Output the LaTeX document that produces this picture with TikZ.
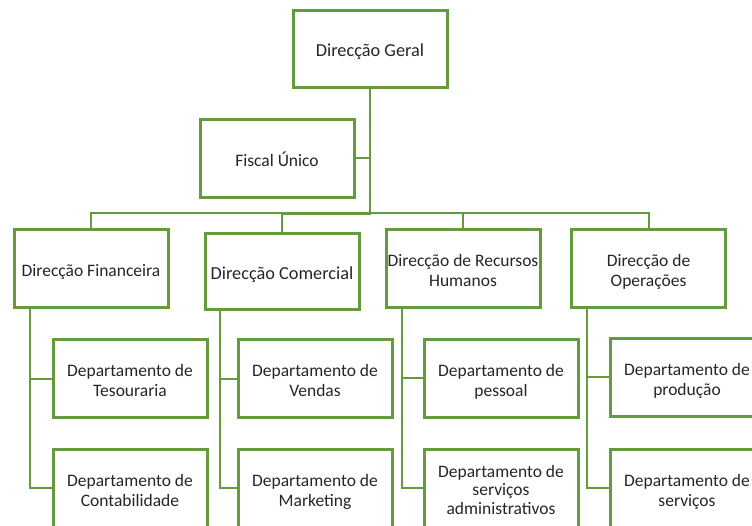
\documentclass[tikz,border=0pt]{standalone}
\usepackage{fontspec}
\setmainfont{Carlito}
\usetikzlibrary{positioning}
\definecolor{orggreen}{RGB}{100,155,60}
\newcommand{\boxtext}[1]{\raisebox{-4pt}[\height][\depth]{\begin{tabular}{@{}c@{}}#1\end{tabular}}}
\tikzset{
  unit/.style={draw=orggreen, line width=3pt, fill=white, minimum width=154pt, minimum height=78pt,
    inner sep=0pt, outer sep=0pt, align=center, text=black!85, font=\fontsize{17.5}{20}\selectfont},
  link/.style={draw=orggreen, line width=2pt}
}

\begin{document}
\begin{tikzpicture}[x=1pt,y=-1pt]
            \clip (0,0) rectangle (752,525);
            %Nodes
            \node[unit, minimum height=77pt, font=\fontsize{18.3}{22}\selectfont] at (370,48.5) (geral) {\boxtext{Direcção Geral}};
            \node[unit] at (277,158) (fiscal) {\boxtext{Fiscal Único}};
            \node[unit] at (91,268) (fin) {\boxtext{Direcção Financeira}};
            \node[unit, minimum height=76pt, font=\fontsize{18.3}{22}\selectfont] at (282,271) (com) {\boxtext{Direcção Comercial}};
            \node[unit] at (463,268) (rh) {\boxtext{Direcção de Recursos\\Humanos}};
            \node[unit] at (648.5,268) (ops) {\boxtext{Direcção de\\Operações}};

            \node[unit] at (130,378.5) (tes) {\boxtext{Departamento de\\Tesouraria}};
            \node[unit] at (130,488) (cont) {\boxtext{Departamento de\\Contabilidade}};
            \node[unit] at (315,378.5) (vend) {\boxtext{Departamento de\\Vendas}};
            \node[unit] at (315,488) (mkt) {\boxtext{Departamento de\\Marketing}};
            \node[unit] at (501,378) (pess) {\boxtext{Departamento de\\pessoal}};
            \node[unit, font=\fontsize{17.5}{18.5}\selectfont] at (501,488) (adm) {\boxtext{Departamento de\\serviços\\administrativos}};
            \node[unit] at (687,377) (prod) {\boxtext{Departamento de\\produção}};
            \node[unit] at (687,488) (serv) {\boxtext{Departamento de\\serviços}};

            %Lines
            \draw[link, line width=2.5pt] (geral.south) -- ++(0,127) -| (com.north);
            \draw[link] (fiscal.east) -- (fiscal.east -| geral.south);
            \draw[link] (fin.north) -- ++(0,-16) -| (ops.north);
            \draw[link] (rh.north) -- ++(0,-16);

            \draw[link] ([xshift=16pt]fin.south west) |- (tes.west);
            \draw[link] ([xshift=16pt]fin.south west) |- (cont.west);
            \draw[link] ([xshift=15pt]com.south west) |- (vend.west);
            \draw[link] ([xshift=15pt]com.south west) |- (mkt.west);
            \draw[link] ([xshift=16pt]rh.south west) |- (pess.west);
            \draw[link] ([xshift=16pt]rh.south west) |- (adm.west);
            \draw[link] ([xshift=15pt]ops.south west) |- (prod.west);
            \draw[link] ([xshift=15pt]ops.south west) |- (serv.west);
        \end{tikzpicture}
\end{document}
